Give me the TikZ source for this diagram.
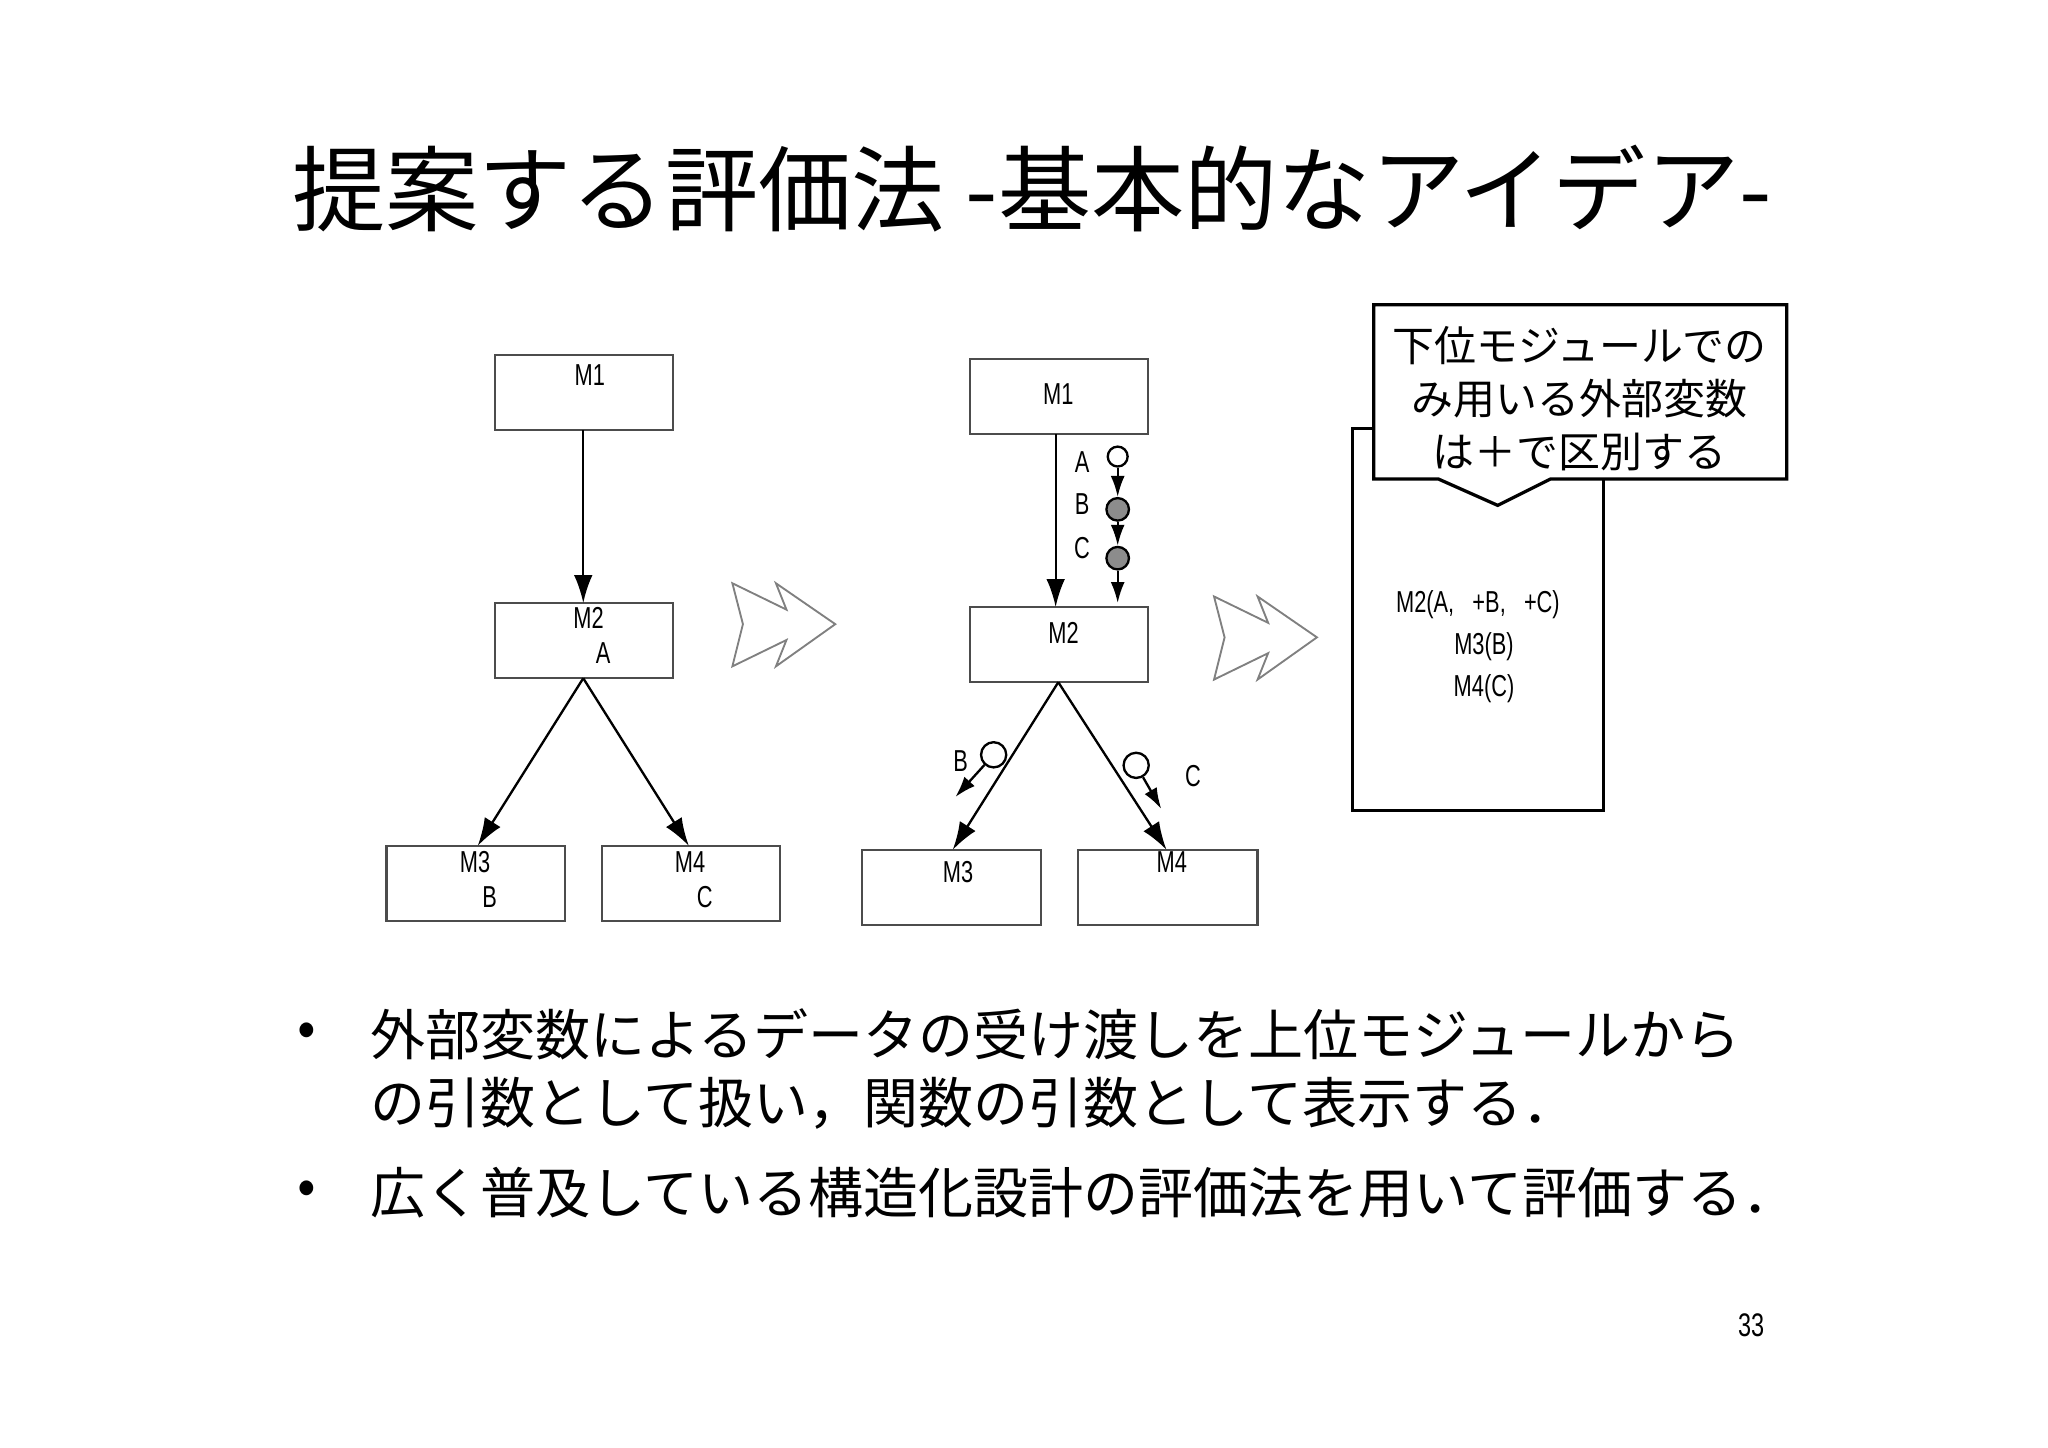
\documentclass[tikz,border=0pt]{standalone}
\usepackage{fontspec}
\setmainfont{Noto Sans CJK JP}
\newfontfamily\narrow[FakeStretch=0.72]{Liberation Sans}
\usetikzlibrary{arrows.meta}
\begin{document}
\begin{tikzpicture}[x=0.00995cm,y=-0.00995cm,
  mbox/.style={draw=black!70,line width=0.5pt},
  lbl/.style={font=\narrow\fontsize{6.5}{7}\selectfont,inner sep=0},
  arr/.style={-{Latex[length=6pt,width=4pt]},line width=0.5pt},
  sarr/.style={-{Latex[length=4.5pt,width=3pt]},line width=0.5pt},
  chev/.style={draw=black!50,line width=0.4pt,fill=white},
  bul/.style={font=\fontsize{11.8}{13}\selectfont,anchor=west,inner sep=0}]
\useasboundingbox (0,0) rectangle (1552,1097);
% title
\node[font=\fontsize{20}{22}\selectfont,inner sep=0] (title) at (782,143) {提案する評価法 -基本的なアイデア-};
% left diagram
\draw[mbox] (375,269) rectangle (510,326);
\draw[mbox] (375,457) rectangle (510,514);
\draw[mbox] (293,641) rectangle (428,698);
\draw[mbox] (456,641) rectangle (591,698);
\node[lbl] (l1) at (447,284) {M1};
\node[lbl] (l2) at (446,468) {M2};
\node[lbl] (l2a) at (457,495) {A};
\node[lbl] (l3) at (360,653) {M3};
\node[lbl] (l3b) at (371,680) {B};
\node[lbl] (l4) at (523,653) {M4};
\node[lbl] (l4c) at (534,680) {C};
\coordinate (a1) at (442,326); \coordinate (a2) at (442,457);
\coordinate (a3) at (442,514); \coordinate (a4) at (362,641); \coordinate (a5) at (522,641);
\draw[arr] (a1) -- (a2);
\draw[arr] (a3) -- (a4);
\draw[arr] (a3) -- (a5);
% chevrons
\draw[chev] (555,442) -- (596,462) -- (588,442) -- (633,473) -- (588,505) -- (596,485) -- (555,505) -- (563,473) -- cycle;
\draw[chev] (920,452) -- (961,472) -- (953,452) -- (998,483) -- (953,515) -- (961,495) -- (920,515) -- (928,483) -- cycle;
% middle diagram
\draw[mbox] (735,272) rectangle (870,329);
\draw[mbox] (735,460) rectangle (870,517);
\draw[mbox] (653,644) rectangle (789,701);
\draw[mbox] (817,644) rectangle (953,701);
\node[lbl] (m1) at (802,299) {M1};
\node[lbl] (m2) at (806,480) {M2};
\node[lbl] (m3) at (726,661) {M3};
\node[lbl] (m4) at (888,653) {M4};
\coordinate (b1) at (800,329); \coordinate (b2) at (800,460);
\coordinate (b3) at (802,517); \coordinate (b4) at (722,644); \coordinate (b5) at (884,644);
\draw[arr] (b1) -- (b2);
\draw[arr] (b3) -- (b4);
\draw[arr] (b3) -- (b5);
\node[draw,circle,minimum size=0.15cm,inner sep=0,line width=0.5pt] (cA) at (847,346) {};
\node[draw,circle,fill=black!45,minimum size=0.17cm,inner sep=0,line width=0.5pt] (cB) at (847,386) {};
\node[draw,circle,fill=black!45,minimum size=0.17cm,inner sep=0,line width=0.5pt] (cC) at (847,423) {};
\coordinate (cEnd) at (847,457);
\draw[sarr] (cA) -- (cB);
\draw[sarr] (cB) -- (cC);
\draw[sarr] (cC) -- (cEnd);
\node[lbl] (tA) at (820,350) {A};
\node[lbl] (tB) at (820,382) {B};
\node[lbl] (tC) at (820,415) {C};
\node[draw,circle,minimum size=0.19cm,inner sep=0,line width=0.5pt] (cB2) at (753,572) {};
\coordinate (eB2) at (724,604);
\draw[sarr] (cB2) -- (eB2);
\node[lbl] (tB2) at (728,577) {B};
\node[draw,circle,minimum size=0.19cm,inner sep=0,line width=0.5pt] (cC2) at (861,580) {};
\coordinate (eC2) at (880,613);
\draw[sarr] (cC2) -- (eC2);
\node[lbl] (tC2) at (904,588) {C};
% right box
\draw[line width=0.7pt] (1025,325) rectangle (1215,614);
\node[lbl,align=center] (rt) at (1120,490) {M2(A,\ \ \ +B,\ \ \ +C)\\[2pt]\ \ M3(B)\\[2pt]\ \ M4(C)};
% callout
\draw[line width=0.7pt,fill=white] (1041,231) -- (1354,231) -- (1354,363) -- (1175,363) -- (1135,383) -- (1090,363) -- (1041,363) -- cycle;
\node[font=\fontsize{9}{11.3}\selectfont,align=center,inner sep=0] (ct) at (1197,302) {下位モジュールでの\\み用いる外部変数\\は＋で区別する};
% bullets
\node[bul] (b1t) at (225,784) {•};
\node[bul] (l1t) at (280,784) {外部変数によるデータの受け渡しを上位モジュールから};
\node[bul] (l2t) at (280,836) {の引数として扱い，関数の引数として表示する．};
\node[bul] (b2t) at (225,904) {•};
\node[bul] (l3t) at (280,904) {広く普及している構造化設計の評価法を用いて評価する．};
\node[font=\narrow\fontsize{7}{8}\selectfont,inner sep=0] (pg) at (1327,1004) {33};
\end{tikzpicture}
\end{document}
